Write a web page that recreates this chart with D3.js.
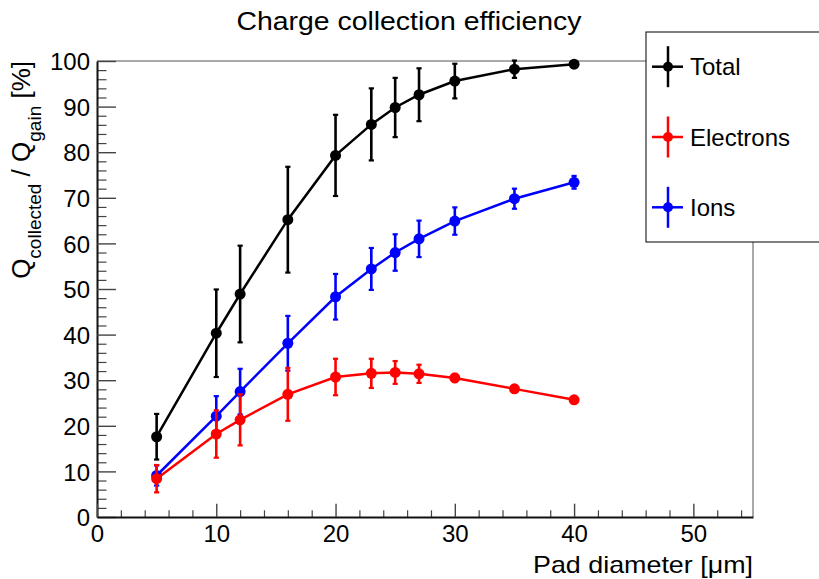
<!DOCTYPE html>
<html>
<head>
<meta charset="utf-8">
<script src="https://cdn.jsdelivr.net/npm/d3@7"></script>
<style>
  body { margin: 0; background: #fff; }
  svg { display: block; font-family: "Liberation Sans", Arial, sans-serif; }
</style>
</head>
<body>
<svg width="819" height="579"></svg>
<script>
// pad diameters (um)
var diameters = [5, 10, 12, 16, 20, 23, 25, 27, 30, 35, 40]

var totalVals = [17.6, 40.3, 48.9, 65.2, 79.3, 86.1, 89.8, 92.6, 95.6, 98.2, 99.3]
var totalErrs = [5.0, 9.6, 10.6, 11.6, 8.9, 7.9, 6.5, 5.8, 3.8, 1.9, 0.7]

var electronVals = [8.4, 18.2, 21.3, 26.9, 30.7, 31.5, 31.7, 31.4, 30.5, 28.1, 25.7]
var electronErrs = [3.0, 5.2, 5.6, 5.8, 4.0, 3.2, 2.5, 2.0, 0.9, 0.5, 0.5]

var ionVals = [9.1, 22.1, 27.5, 38.1, 48.3, 54.4, 58.0, 61.0, 64.9, 69.8, 73.4]
var ionErrs = [2.2, 4.4, 5.0, 6.0, 5.0, 4.6, 4.0, 4.0, 3.0, 2.2, 1.4]

var seriesNames = ["Total", "Electrons", "Ions"]
var seriesColors = ["#000000", "#ff0000", "#0000ff"]

var xTicks = [0, 10, 20, 30, 40, 50]
var yTicks = [0, 10, 20, 30, 40, 50, 60, 70, 80, 90, 100]

function main(){
    var svg = d3.select("svg")
    var left = 97, right = 753, top = 61, bottom = 517

    var xScale = d3.scaleLinear().domain([0, 55]).range([left, right]),
        yScale = d3.scaleLinear().domain([0, 100]).range([bottom, top])

    // frame (top + right)
    svg.append("path")
        .attr("d", "M" + left + "," + top + "H" + right + "V" + bottom)
        .attr("fill", "none").attr("stroke", "#555").attr("stroke-width", 1)

    // minor ticks
    var yMinor = d3.range(0, 100.1, 2).filter(function(d){ return d % 10 != 0 })
    svg.append("g").attr("transform", "translate(" + left + ",0)")
        .call(d3.axisLeft(yScale).tickValues(yMinor).tickSize(-9.5).tickFormat(""))
        .call(function(g){ g.select(".domain").remove() })
        .selectAll("line").attr("stroke", "#444").attr("stroke-width", 1.2)

    var xMinor = d3.range(0, 55.1, 2).filter(function(d){ return d % 10 != 0 })
    svg.append("g").attr("transform", "translate(0," + bottom + ")")
        .call(d3.axisBottom(xScale).tickValues(xMinor).tickSize(-6.7).tickFormat(""))
        .call(function(g){ g.select(".domain").remove() })
        .selectAll("line").attr("stroke", "#444").attr("stroke-width", 1.2)

    // major axes
    var yAxis = svg.append("g").attr("transform", "translate(" + left + ",0)")
        .call(d3.axisLeft(yScale).tickValues(yTicks).tickSize(-19).tickPadding(7).tickSizeOuter(0))
    var xAxis = svg.append("g").attr("transform", "translate(0," + bottom + ")")
        .call(d3.axisBottom(xScale).tickValues(xTicks).tickSize(-13.3).tickPadding(8).tickSizeOuter(0))

    ;[yAxis, xAxis].forEach(function(a){
        a.attr("font-family", null).attr("font-size", null)
        a.select(".domain").attr("stroke", "#111").attr("stroke-width", 2)
        a.selectAll(".tick line").attr("stroke", "#444").attr("stroke-width", 1.4)
        a.selectAll(".tick text").attr("fill", "#000").style("font-size", "24px")
    })
    yAxis.selectAll(".tick text").attr("dy", "0.36em")

    // series
    var series = [
        {vals: totalVals, errs: totalErrs},
        {vals: electronVals, errs: electronErrs},
        {vals: ionVals, errs: ionErrs}
    ]
    var line = d3.line()
        .x(function(d){ return xScale(d.x) })
        .y(function(d){ return yScale(d.y) })

    // draw ions then electrons then total, like the picture's stacking
    ;[2, 1, 0].forEach(function(si){
        var s = series[si], col = seriesColors[si]
        var pts = diameters.map(function(x, i){ return {x: x, y: s.vals[i], e: s.errs[i]} })
        var g = svg.append("g")
        g.append("path").datum(pts).attr("d", line)
            .attr("fill", "none").attr("stroke", col).attr("stroke-width", 2.5)
        var eb = g.selectAll(".err").data(pts).enter().append("g")
        eb.append("line")
            .attr("x1", function(d){ return xScale(d.x) }).attr("x2", function(d){ return xScale(d.x) })
            .attr("y1", function(d){ return yScale(d.y - d.e) }).attr("y2", function(d){ return yScale(d.y + d.e) })
            .attr("stroke", col).attr("stroke-width", 2.6)
        ;[-1, 1].forEach(function(sgn){
            eb.append("line")
                .attr("x1", function(d){ return xScale(d.x) - 2.6 }).attr("x2", function(d){ return xScale(d.x) + 2.6 })
                .attr("y1", function(d){ return yScale(d.y + sgn * d.e) }).attr("y2", function(d){ return yScale(d.y + sgn * d.e) })
                .attr("stroke", col).attr("stroke-width", 2.2)
        })
        g.selectAll("circle").data(pts).enter().append("circle")
            .attr("cx", function(d){ return xScale(d.x) })
            .attr("cy", function(d){ return yScale(d.y) })
            .attr("r", 5.5).attr("fill", col)
    })

    // title
    svg.append("text").attr("x", 409).attr("y", 30).attr("text-anchor", "middle")
        .style("font-size", "25px").attr("textLength", 345).attr("lengthAdjust", "spacingAndGlyphs")
        .text("Charge collection efficiency")

    // x label
    svg.append("text").attr("x", right).attr("y", 573).attr("text-anchor", "end")
        .style("font-size", "24px").attr("textLength", 220).attr("lengthAdjust", "spacingAndGlyphs")
        .text("Pad diameter [\u03bcm]")

    // y label
    var yl = svg.append("text").attr("transform", "translate(30," + top + ") rotate(-90)")
        .attr("text-anchor", "end").style("font-size", "26px")
    yl.append("tspan").text("Q")
    yl.append("tspan").attr("dy", 11).style("font-size", "19px").text("collected")
    yl.append("tspan").attr("dy", -11).text(" / Q")
    yl.append("tspan").attr("dy", 11).style("font-size", "19px").text("gain")
    yl.append("tspan").attr("dy", -11).text(" [%]")

    // legend
    var lg = svg.append("g")
    lg.append("rect").attr("x", 646).attr("y", 32).attr("width", 180).attr("height", 210)
        .attr("fill", "#fff").attr("stroke", "#000").attr("stroke-width", 1)
    var ly = d3.scalePoint().domain(seriesNames).range([66.7, 207.3])
    seriesNames.forEach(function(n, i){
        var y = ly(n), col = seriesColors[i]
        lg.append("line").attr("x1", 652).attr("x2", 683).attr("y1", y).attr("y2", y)
            .attr("stroke", col).attr("stroke-width", 2.5)
        lg.append("line").attr("x1", 668).attr("x2", 668).attr("y1", y - 20.5).attr("y2", y + 20.5)
            .attr("stroke", col).attr("stroke-width", 2.5)
        lg.append("circle").attr("cx", 668).attr("cy", y).attr("r", 5).attr("fill", col)
        lg.append("text").attr("x", 690).attr("y", y + 8.5).style("font-size", "24px").text(n)
    })
}
main()
</script>
</body>
</html>
